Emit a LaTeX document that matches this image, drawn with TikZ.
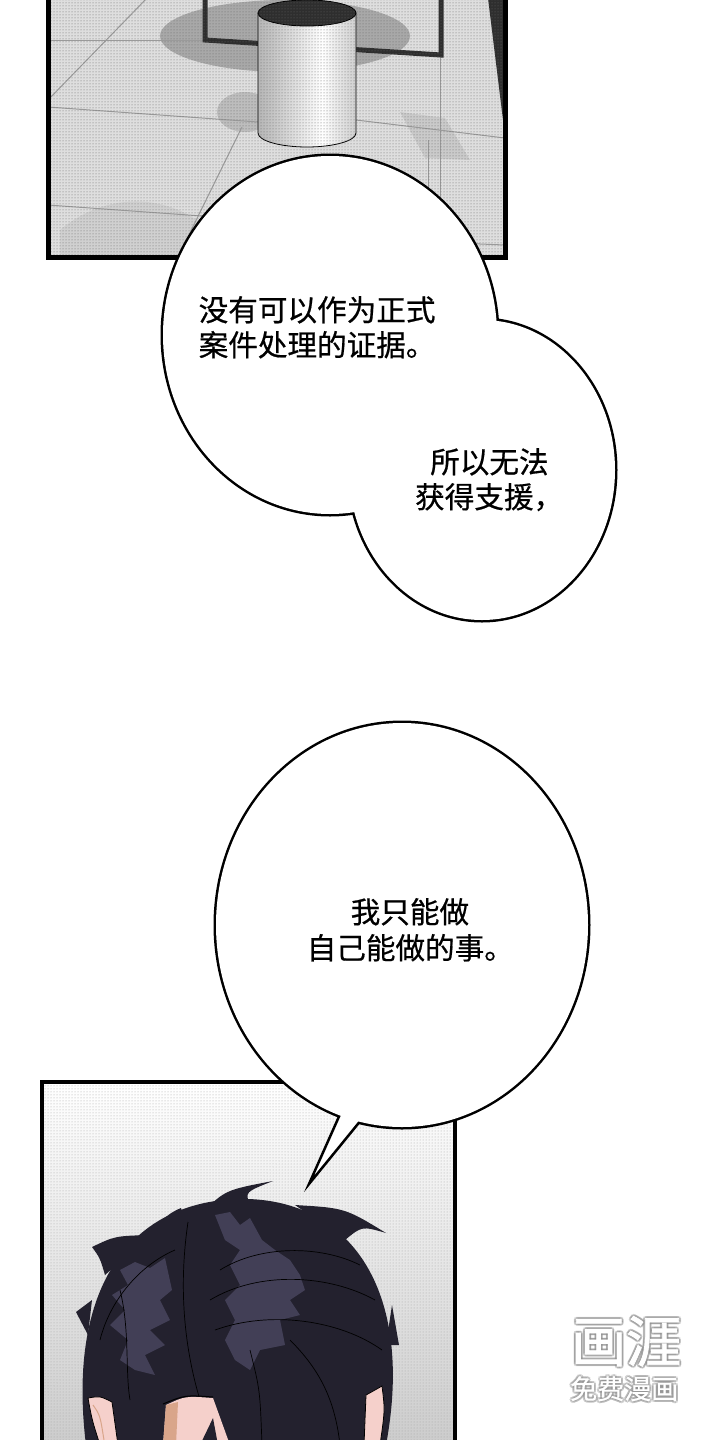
\documentclass[tikz,border=0pt]{standalone}
\usepackage{fontspec}
\newfontfamily\cjk{Noto Sans CJK SC}[FakeBold=0.6]
\newfontfamily\cjkwm{Noto Sans CJK SC}[FakeBold=1.5]
\usetikzlibrary{patterns}
\definecolor{hair}{HTML}{23212E}
\definecolor{hairhi}{HTML}{423F56}
\definecolor{skin}{HTML}{F5D0CB}
\definecolor{skintan}{HTML}{D9A58A}
\definecolor{floorbg}{HTML}{DEDEDE}
\definecolor{shadowA}{HTML}{A8A8A8}
\definecolor{shadowB}{HTML}{BDBDBD}
\definecolor{framec}{HTML}{2E2E2E}
\definecolor{linec}{HTML}{9A9A9A}
\pgfdeclarehorizontalshading{cylshade}{100bp}{color(0bp)=(black!45); color(30bp)=(black!25); color(58bp)=(white); color(68bp)=(black!12); color(100bp)=(black!42)}
\tikzset{
  bubbleline/.style={draw=black, fill=white, line width=5pt, line join=round},
  tailline/.style={draw=black, fill=white, line width=2.5pt, line join=miter},
  txt/.style={font=\cjk\fontsize{29.6}{35}\selectfont, inner sep=0pt, anchor=base west},
  floorline/.style={draw=linec, line width=1pt},
  framebar/.style={draw=framec, line width=5pt},
  strand/.style={draw=black, line width=0.7pt},
  wmbig/.style={font=\cjkwm\fontsize{55}{60}\selectfont, inner sep=0pt, anchor=base west},
  wmsmall/.style={font=\cjk\fontsize{27}{30}\selectfont, inner sep=0pt, anchor=base west}
}
\begin{document}
\begin{tikzpicture}[x=1pt,y=-1pt]
\useasboundingbox (0,0) rectangle (719,1440);
\fill[white] (0,0) rectangle (719,1440);

% ---------------- top panel ----------------
\begin{scope}
\clip (48,-10) rectangle (505,257);
\fill[floorbg] (48,-10) rectangle (505,257);
\fill[shadowA] (285,36) ellipse [x radius=125, y radius=36];
\fill[shadowB] (245,112) ellipse [x radius=28, y radius=20];
\fill[shadowB, opacity=0.6] (400,112) -- (445,118) -- (470,160) -- (425,158) -- cycle;
\fill[black, opacity=0.06] (60,230) .. controls (120,180) and (200,200) .. (230,257) -- (60,257) -- cycle;
\draw[floorline] (48,40) -- (203,40);
\draw[floorline] (48,100) -- (150,-5);
\draw[floorline] (48,107) -- (258,122);
\draw[floorline] (242,127) -- (178,257);
\draw[floorline] (48,205) -- (230,218);
\draw[floorline] (356,120) -- (505,138);
\draw[floorline] (440,55) -- (440,257);
\draw[floorline] (428,140) -- (428,257);
\draw[floorline] (455,243) -- (505,245);
\draw[framebar] (205,-10) -- (205,40) -- (441,55) -- (441,-10);
\fill[framec] (487,-10) -- (506,-10) -- (503,120) -- cycle;
\path[shading=cylshade, draw=black, line width=0.8pt] (258,13) -- (258,133) arc[start angle=180, end angle=0, x radius=49, y radius=14] -- (356,13) -- cycle;
\filldraw[fill=framec, draw=black, line width=0.8pt] (307,13) ellipse [x radius=49, y radius=13];
\fill[pattern=dots, pattern color=black!60] (48,-10) rectangle (505,257);
\end{scope}
\draw[line width=5pt] (48,-10) rectangle (505,257);

% ---------------- bubble 1 ----------------
\path[bubbleline] (330,335) ellipse [x radius=167, y radius=179];
\path[bubbleline] (482,470) ellipse [x radius=133, y radius=150];
\fill[white] (330,335) ellipse [x radius=167, y radius=179];
\fill[white] (482,470) ellipse [x radius=133, y radius=150];
\node[txt] (t1) at (198.5,321) {没有可以作为正式};
\node[txt] (t2) at (198.5,356) {案件处理的证据。};
\node[txt] (t3) at (430,473) {所以无法};
\node[txt] (t4) at (415,508) {获得支援，};

% ---------------- bottom panel ----------------
\begin{scope}
\clip (42,1082) rectangle (455,1445);
\shade[top color=white, bottom color=black!20] (42,1082) rectangle (455,1445);
\fill[pattern=dots, pattern color=black!35] (42,1082) rectangle (455,1445);
% hair
\fill[hair] (86,1445) .. controls (68,1300) and (120,1205) .. (235,1199) .. controls (350,1195) and (415,1290) .. (386,1445) -- cycle;
\fill[hair] (88,1335) -- (76,1312) -- (92,1300) -- cycle;
\fill[hair] (105,1275) .. controls (100,1258) .. (92,1247) .. controls (115,1236) .. (150,1235) -- cycle;
\fill[hair] (160,1222) .. controls (172,1212) .. (181,1208) .. controls (183,1215) .. (195,1225) -- cycle;
\fill[hair] (200,1215) .. controls (225,1190) .. (273,1181) .. controls (245,1192) .. (250,1205) -- cycle;
\fill[hair] (295,1205) .. controls (345,1208) .. (386,1233) .. controls (362,1226) .. (345,1240) -- cycle;
\fill[hair] (392,1305) -- (399,1345) -- (386,1345) -- cycle;
% highlights
\fill[hairhi] (120,1270) -- (135,1262) -- (150,1268) -- (165,1258) -- (172,1290) -- (160,1300) -- (170,1320) -- (150,1330) -- (165,1345) -- (145,1355) -- (155,1375) -- (135,1370) -- (120,1360) -- (128,1340) -- (110,1325) -- (125,1310) -- (112,1295) -- (128,1285) -- cycle;
\fill[hairhi] (215,1215) -- (230,1212) -- (240,1225) -- (250,1218) -- (262,1240) -- (275,1250) -- (290,1260) -- (300,1275) -- (305,1290) -- (290,1300) -- (300,1315) -- (280,1320) -- (285,1345) -- (260,1350) -- (250,1370) -- (235,1360) -- (225,1340) -- (235,1320) -- (225,1300) -- (240,1285) -- (230,1265) -- (240,1250) -- (225,1240) -- cycle;
% strands
\draw[strand] (188,1222) .. controls (178,1290) and (185,1350) .. (200,1400);
\draw[strand] (175,1250) .. controls (140,1265) and (110,1300) .. (100,1340);
\draw[strand] (210,1300) .. controls (260,1270) and (330,1275) .. (375,1300);
\draw[strand] (215,1330) .. controls (270,1310) and (340,1320) .. (382,1350);
\draw[strand] (220,1270) .. controls (260,1245) and (320,1245) .. (360,1265);
\draw[strand] (120,1290) .. controls (130,1330) and (125,1370) .. (130,1400);
\draw[strand] (290,1340) .. controls (320,1370) and (335,1400) .. (340,1445);
\draw[strand] (250,1350) .. controls (260,1390) .. (262,1445);
% ears and face
\filldraw[fill=skin, draw=black, line width=0.8pt] (112,1402) .. controls (100,1396) .. (88,1398) .. controls (92,1420) .. (100,1445) -- (118,1445) -- cycle;
\draw[skintan, line width=1pt] (93,1405) .. controls (100,1415) .. (104,1440);
\filldraw[fill=skin, draw=black, line width=0.8pt] (366,1395) .. controls (375,1390) .. (382,1386) .. controls (385,1410) .. (380,1445) -- (364,1445) -- cycle;
\fill[skin] (163,1445) -- (166,1405) .. controls (185,1396) .. (213,1398) -- (230,1445) -- cycle;
\fill[skintan] (163,1445) -- (166,1405) -- (178,1402) -- (176,1445) -- cycle;
\draw[black, line width=1pt] (163,1404) .. controls (185,1395) .. (213,1397);
\fill[hair] (200,1445) -- (213,1418) -- (218,1445) -- cycle;
\end{scope}
\draw[line width=4pt] (42,1082) rectangle (455,1460);

% ---------------- bubble 2 ----------------
\path[bubbleline] (402,925) ellipse [x radius=186, y radius=202];
\path[tailline] (341,1112) -- (309,1184) -- (366,1114);
\fill[white] (402,925) ellipse [x radius=186, y radius=202];
\node[txt] (t5) at (350.5,923) {我只能做};
\node[txt] (t6) at (306.5,959) {自己能做的事。};

% ---------------- watermark ----------------
\foreach \dx/\dy [count=\i] in {-2/0,2/0,0/-2,0/2,-1.5/-1.5,1.5/1.5,-1.5/1.5,1.5/-1.5} {
  \node[wmbig, text=black!45, opacity=0.3] (wmshadowA\i) at (571+\dx,1362+\dy) {画涯};
  \node[wmsmall, text=black!45, opacity=0.3] (wmshadowB\i) at (570+\dx,1399+\dy) {免费漫画};
}
\node[wmbig, text=white] (wm1) at (571,1362) {画涯};
\node[wmsmall, text=white] (wm2) at (570,1399) {免费漫画};
\end{tikzpicture}
\end{document}
